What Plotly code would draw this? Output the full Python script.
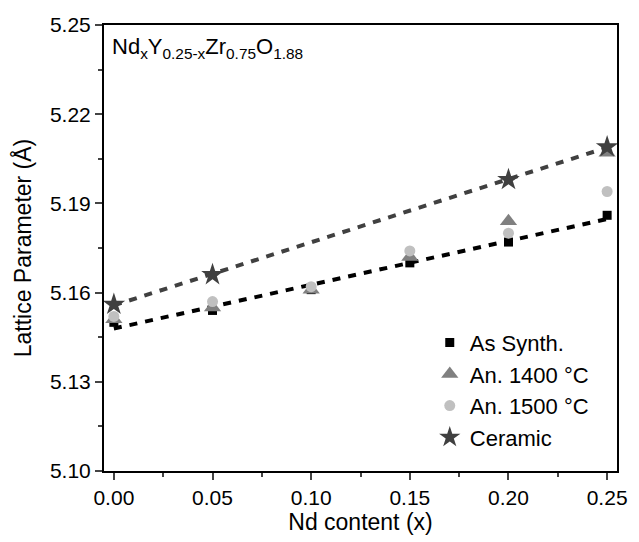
import numpy as np
import plotly.graph_objects as go

x_all = [0.00, 0.05, 0.10, 0.15, 0.20, 0.25]
as_synth = [5.150, 5.154, 5.161, 5.170, 5.177, 5.186]
an_1400 = [5.151, 5.155, 5.161, 5.172, 5.184, 5.207]
an_1500 = [5.152, 5.157, 5.162, 5.174, 5.180, 5.194]
x_ceramic = [0.00, 0.05, 0.20, 0.25]
ceramic = [5.156, 5.166, 5.198, 5.209]

x_ticks = [0.00, 0.05, 0.10, 0.15, 0.20, 0.25]
y_ticks = [5.10, 5.13, 5.16, 5.19, 5.22, 5.25]

font = "Liberation Sans, Arial, sans-serif"

fig = go.Figure()

# linear fits
p1 = np.polyfit(x_all, as_synth, 1)
p2 = np.polyfit(x_ceramic, ceramic, 1)
xf = np.array([x_all[0], x_all[-1]])
fig.add_trace(go.Scatter(x=xf, y=np.polyval(p1, xf), mode="lines",
                         line=dict(color="black", width=4, dash="8px,8px"),
                         showlegend=False, hoverinfo="skip"))
fig.add_trace(go.Scatter(x=xf, y=np.polyval(p2, xf), mode="lines",
                         line=dict(color="#404040", width=4, dash="8px,8px"),
                         showlegend=False, hoverinfo="skip"))

fig.add_trace(go.Scatter(x=x_all, y=as_synth, mode="markers", name="As Synth.",
                         marker=dict(symbol="square", size=9, color="black")))
fig.add_trace(go.Scatter(x=x_all, y=an_1400, mode="markers", name="An. 1400 °C",
                         marker=dict(symbol="triangle-up", size=15, color="#808080")))
fig.add_trace(go.Scatter(x=x_all, y=an_1500, mode="markers", name="An. 1500 °C",
                         marker=dict(symbol="circle", size=11, color="#c0c0c0")))
fig.add_trace(go.Scatter(x=x_ceramic, y=ceramic, mode="markers", name="Ceramic",
                         marker=dict(symbol="star", size=17, color="#404040")))

fig.add_annotation(
    text="Nd<sub>x</sub>Y<sub>0.25-x</sub>Zr<sub>0.75</sub>O<sub>1.88</sub>",
    xref="paper", yref="paper", x=0.012, y=0.985, xanchor="left", yanchor="top",
    showarrow=False, font=dict(family=font, size=22, color="black"))

fig.update_layout(
    width=639, height=542,
    margin=dict(l=104, r=16, t=25, b=71),
    paper_bgcolor="white", plot_bgcolor="white",
    font=dict(family=font, size=21, color="black"),
    legend=dict(x=0.635, y=0.335, xanchor="left", yanchor="top",
                bgcolor="rgba(0,0,0,0)", font=dict(size=22), itemwidth=30),
    xaxis=dict(range=[-0.005, 0.255], tickvals=x_ticks, tickformat=".2f",
               ticks="outside", ticklen=7, tickwidth=2, showline=True, linewidth=2,
               linecolor="black", mirror=True, showgrid=False, zeroline=False,
               minor=dict(tick0=0.025, dtick=0.05, ticks="outside", ticklen=4, tickwidth=1.5),
               title=dict(text="Nd content (x)", font=dict(size=23), standoff=4)),
    yaxis=dict(range=[5.10, 5.25], tickvals=y_ticks, tickformat=".2f",
               ticks="outside", ticklen=7, tickwidth=2, showline=True, linewidth=2,
               linecolor="black", mirror=True, showgrid=False, zeroline=False,
               minor=dict(tick0=5.115, dtick=0.03, ticks="outside", ticklen=4, tickwidth=1.5),
               title=dict(text="Lattice Parameter (Å)", font=dict(size=23), standoff=12)),
)

fig.write_html("out.html")
